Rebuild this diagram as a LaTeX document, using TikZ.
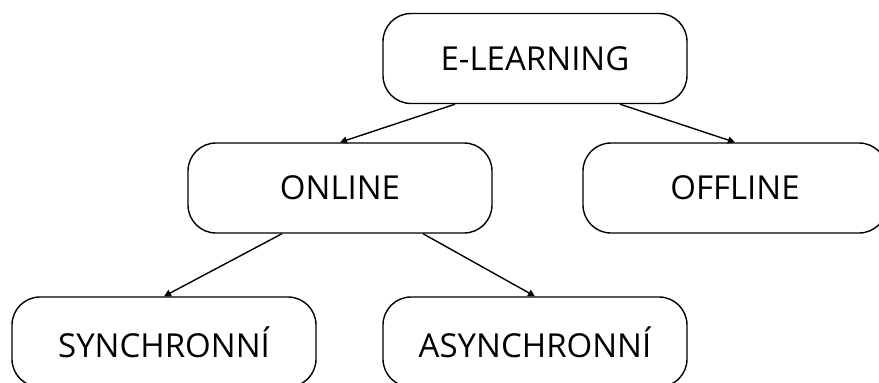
\documentclass[tikz,border=0pt]{standalone}
\usepackage{fontspec}
\setmainfont{Open Sans}
\usepackage{tikz}
\usetikzlibrary{
	arrows.meta,
	positioning,
}
\tikzset{category/.style={
		% The shape:
		rectangle,
		rounded corners=28pt,
		% The size:
		minimum width=304pt,
		minimum height=90pt,
		% The border:
		line width=1.4pt,
		draw=black,
		% The text:
		font=\fontsize{33}{40}\selectfont,
}}

\begin{document}
\begin{tikzpicture}[
	x=1pt,y=-1pt,
	>= {Triangle[length=7pt,width=7pt]},
	line width=1.4pt,black,
	every new ->/.style={shorten >=0pt}
	]
	\useasboundingbox (0,0) rectangle (879,383);
	
	%% top level
	\node (elearning)[category] at (535,58.5) {E-LEARNING};
	
	%% second level
	\node (online)[category] at (340,188) {ONLINE};
	\node (offline)[category] at (735,188) {OFFLINE};
	
	%% third level
	\node (synch)[category] at (164,342) {SYNCHRONNÍ};
	\node (asynch)[category] at (535,342) {ASYNCHRONNÍ};
	
	%% from e-learning
	\draw[->] ([xshift=-80pt]elearning.south) to (online.north);
	\draw[->] ([xshift=85pt]elearning.south) to (offline.north);
	
	%% from online
	\draw[->] ([xshift=-58pt]online.south) to (synch.north);
	\draw[->] ([xshift=83pt]online.south) to (asynch.north);
	
\end{tikzpicture}
\end{document}
